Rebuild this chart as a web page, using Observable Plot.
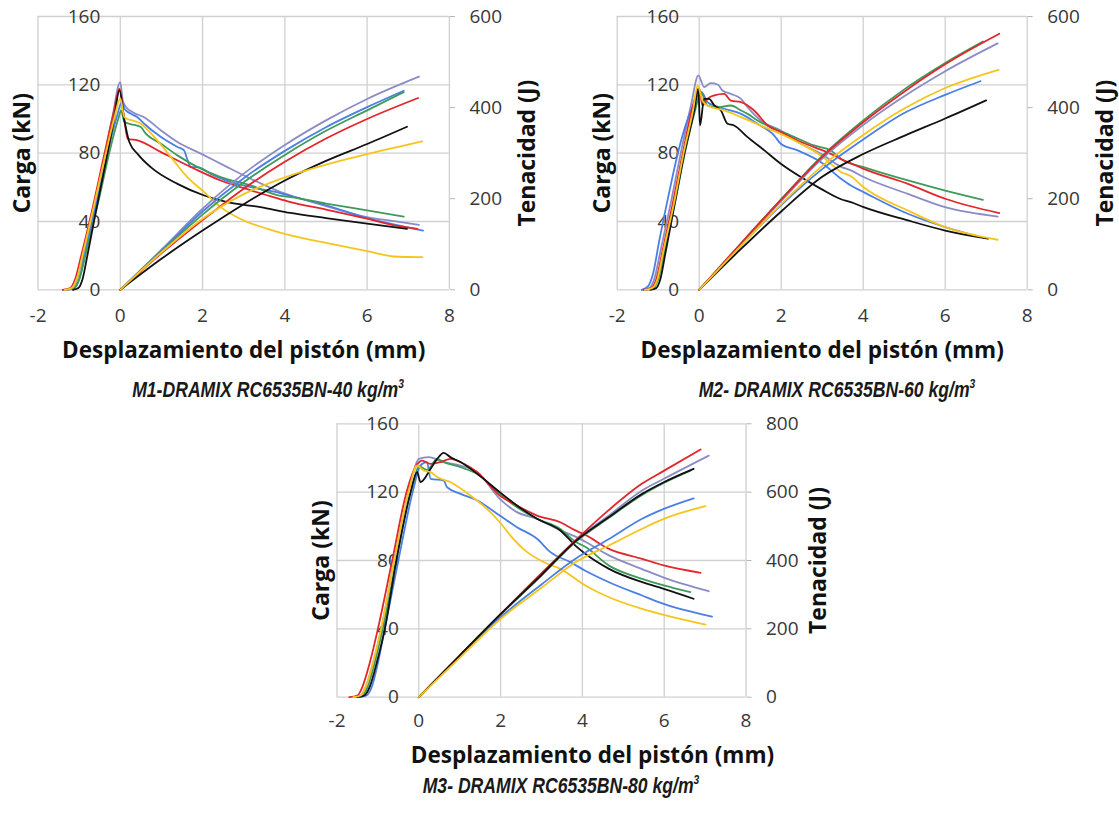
<!DOCTYPE html>
<html><head><meta charset="utf-8">
<script src="https://cdn.jsdelivr.net/npm/d3@7"></script>
<script src="https://cdn.jsdelivr.net/npm/@observablehq/plot@0.6"></script>
<style>
html,body{margin:0;padding:0;background:#fff;}
body{width:1119px;height:813px;position:relative;overflow:hidden;}
.panel{position:absolute;}
.cap{position:absolute;font-family:"Liberation Sans",Arial,sans-serif;font-style:italic;font-weight:bold;font-size:22px;color:#1a1a1a;white-space:nowrap;transform:translate(-50%,-50%) scaleX(0.8);transform-origin:50% 50%;}
.cap sup{font-size:58%;vertical-align:top;position:relative;top:-1px;}
</style></head><body>
<div id="p1" class="panel"></div>
<div id="p2" class="panel"></div>
<div id="p3" class="panel"></div>
<div class="cap" style="left:268px;top:390px">M1-DRAMIX RC6535BN-40 kg/m<sup>3</sup></div>
<div class="cap" style="left:837px;top:390px">M2- DRAMIX RC6535BN-60 kg/m<sup>3</sup></div>
<div class="cap" style="left:561px;top:786px">M3- DRAMIX RC6535BN-80 kg/m<sup>3</sup></div>
<script>
// ---------- ticks & labels ----------
const X_TICKS = [-2, 0, 2, 4, 6, 8];
const CARGA_TICKS = [0, 40, 80, 120, 160];
const TEN_TICKS_M1 = [0, 200, 400, 600];
const TEN_TICKS_M2 = [0, 200, 400, 600];
const TEN_TICKS_M3 = [0, 200, 400, 600, 800];
const X_TITLE = "Desplazamiento del pistón (mm)";
const Y_TITLE = "Carga (kN)";
const Y2_TITLE = "Tenacidad (J)";
const SERIES = ["morado", "azul", "verde", "rojo", "negro", "amarillo"];

// ---------- M1: carga (kN) vs desplazamiento (mm) ----------
const M1_CARGA_MORADO = [[-1.38,0],[-1.2,0.5],[-1.08,4],[-0.95,15],[-0.75,35],[-0.45,70],[-0.2,100],[0,121.6],[0.06,110.9],[0.14,107],[0.3,104],[0.58,101],[0.99,93.3],[1.39,86.5],[1.97,79.6],[2.6,71.8],[3.17,65],[3.9,57.2],[4.14,55.2],[5,49],[6,42.6],[6.7,40],[7.26,38]];
const M1_CARGA_AZUL = [[-1.3,0],[-1.12,1],[-1.0,6],[-0.85,22],[-0.6,48],[-0.35,76],[-0.1,100],[0.05,110.5],[0.1,106],[0.26,103],[0.42,101],[0.58,97.2],[0.99,89.4],[1.39,83.6],[1.55,81.6],[1.62,77],[1.72,71.8],[1.88,71.8],[2.2,67.9],[2.69,63],[3.17,60.1],[3.9,56.5],[4.14,55],[5,49.5],[6,42],[6.7,38],[7.36,34.7]];
const M1_CARGA_VERDE = [[-1.3,0],[-1.12,1],[-1.0,6],[-0.8,25],[-0.5,55],[-0.25,82],[-0.05,100],[0.02,105],[0.1,98.2],[0.25,97],[0.5,95.3],[0.6,92],[0.99,85.5],[1.39,78.7],[1.88,71.8],[2.44,66],[3.17,61.1],[3.9,55],[4.14,54.3],[5,50.5],[6,46.5],[6.89,42.9]];
const M1_CARGA_ROJO = [[-1.4,0],[-1.22,1],[-1.1,6],[-0.95,20],[-0.7,45],[-0.4,78],[-0.15,105],[-0.02,117.7],[0.1,99.2],[0.18,88.4],[0.42,87.5],[0.99,80.6],[1.8,70.9],[2.44,64],[3.17,58.2],[3.9,53],[4.14,51.3],[5,47],[6,41.6],[6.6,38],[7.22,35.7]];
const M1_CARGA_NEGRO = [[-1.15,0],[-1.02,1],[-0.92,6],[-0.8,20],[-0.6,45],[-0.35,75],[-0.15,100],[-0.02,116.7],[0.1,99.2],[0.22,86.5],[0.42,79.6],[0.74,71.8],[1.39,62],[2.04,55.2],[2.6,51.3],[3.41,48.4],[4.14,45],[5,42],[6,38.7],[6.97,35.7]];
const M1_CARGA_AMARILLO = [[-1.35,0],[-1.18,1],[-1.05,7],[-0.9,22],[-0.65,48],[-0.4,75],[-0.15,100],[0,112],[0.1,101],[0.5,97.2],[0.83,89.4],[1.23,77.7],[1.63,66],[2.04,57.2],[2.44,48.4],[3.0,40.6],[3.58,35.7],[4.14,31.8],[5,27.5],[6,22.6],[6.65,19.5],[7.34,19.1]];
// ---------- M1: tenacidad (J) ----------
const M1_TEN_MORADO = [[0,0],[1,88],[2,178],[3,255],[4,318],[5,372],[6,419],[7.26,468]];
const M1_TEN_AZUL = [[0,0],[1,86],[2,172],[3,245],[4,305],[5,357],[6,401],[6.89,437]];
const M1_TEN_VERDE = [[0,0],[1,84],[2,165],[3,236],[4,296],[5,349],[6,394],[6.89,434]];
const M1_TEN_ROJO = [[0,0],[1,80],[2,153],[3,222],[4,281],[5,332],[6,375],[7.24,421]];
const M1_TEN_NEGRO = [[0,0],[1,68],[2,130],[3,188],[4,240],[5,283],[6,320],[6.97,358]];
const M1_TEN_AMARILLO = [[0,0],[1,82],[2,156],[3,210],[4,247],[5,275],[6,298],[7.34,326]];

// ---------- M2: carga ----------
const M2_CARGA_MORADO = [[-1.4,0],[-1.22,1],[-1.1,6],[-0.95,22],[-0.7,50],[-0.45,80],[-0.2,108],[-0.02,125.5],[0.12,118.6],[0.28,121],[0.45,120.2],[0.57,116.7],[0.77,114.7],[1.02,111.8],[1.18,106.9],[1.5,99.1],[1.99,93.3],[2.48,85.5],[2.97,79.6],[3.46,72],[3.7,69.9],[4.01,66],[5.09,56.2],[6.0,48.4],[7.28,42.9]];
const M2_CARGA_ROJO = [[-1.35,0],[-1.18,1],[-1.05,6],[-0.9,22],[-0.65,50],[-0.4,80],[-0.15,108],[0,118],[0.08,107.9],[0.2,111.8],[0.37,113.8],[0.61,114.7],[0.77,110.8],[1.02,109.9],[1.34,105],[1.67,96.2],[1.99,92.3],[2.4,87.4],[2.8,83.5],[3.21,79.6],[3.46,76.5],[3.7,74],[4.01,70.8],[5.09,62],[6.0,53.3],[7.32,44.9]];
const M2_CARGA_VERDE = [[-1.3,0],[-1.12,1],[-1.0,6],[-0.85,22],[-0.6,50],[-0.35,80],[-0.1,105],[0.04,115.7],[0.2,107.9],[0.45,106.9],[0.77,107.9],[1.02,105],[1.18,103],[1.42,99.1],[1.75,95.2],[2.24,90.3],[2.8,84.5],[3.21,81.6],[3.5,76],[4.01,71.8],[5.09,64],[6.0,58.1],[6.92,52.7]];
const M2_CARGA_AZUL = [[-1.4,0],[-1.25,2],[-1.12,10],[-0.98,28],[-0.75,55],[-0.5,82],[-0.2,105],[0.06,115.7],[0.2,109.9],[0.37,107.9],[0.61,106],[1.02,103],[1.42,97.2],[1.83,90.3],[1.99,85.5],[2.4,81.6],[2.97,74.7],[3.46,65],[3.7,61],[4.01,57.2],[5.09,44.5],[6.0,36.7],[6.87,30.8]];
const M2_CARGA_AMARILLO = [[-1.32,0],[-1.15,1],[-1.02,6],[-0.88,22],[-0.62,50],[-0.38,80],[-0.15,105],[-0.04,119.6],[0.08,110.8],[0.2,107.9],[0.61,105],[1.02,101.1],[1.59,95.2],[1.99,91.3],[2.48,85.5],[2.97,78.6],[3.46,69],[3.7,66.5],[4.01,60],[5.09,46.4],[6.0,36.7],[7.28,29.3]];
const M2_CARGA_NEGRO = [[-1.2,0],[-1.05,1],[-0.95,6],[-0.82,22],[-0.6,50],[-0.36,80],[-0.12,105],[-0.02,117.7],[0.02,96.2],[0.12,111.8],[0.24,111.8],[0.37,107.9],[0.53,105],[0.69,97.2],[0.85,96.2],[1.18,89.4],[1.59,81.6],[1.99,73.8],[2.48,66],[2.97,59.1],[3.46,53],[3.7,51.3],[4.01,48.4],[5.09,40.6],[6.0,34.7],[7.04,29.9]];
// ---------- M2: tenacidad ----------
const M2_TEN_ROJO = [[0,0],[1,100],[2,198],[3,292],[4,368],[5,435],[6,495],[7.32,562]];
const M2_TEN_VERDE = [[0,0],[1,100],[2,199],[3,294],[4,372],[5,440],[6,498],[6.92,545]];
const M2_TEN_MORADO = [[0,0],[1,98],[2,195],[3,288],[4,362],[5,425],[6,480],[7.28,541]];
const M2_TEN_AMARILLO = [[0,0],[1,95],[2,188],[3,272],[4,340],[5,398],[6,443],[7.3,483]];
const M2_TEN_AZUL = [[0,0],[1,95],[2,186],[3,265],[4,330],[5,388],[6,428],[6.86,458]];
const M2_TEN_NEGRO = [[0,0],[1,88],[2,172],[3,248],[4,298],[5,338],[6,376],[7.0,416]];

// ---------- M3: carga ----------
const M3_CARGA_ROJO = [[-1.7,0],[-1.5,1],[-1.38,6],[-1.2,20],[-1.0,40],[-0.65,80],[-0.3,120],[-0.05,136],[0.08,138.5],[0.29,136.6],[0.53,137.6],[0.77,139.5],[1.1,136.6],[1.43,131.7],[1.98,118],[2.4,112.2],[2.89,106.3],[3.46,102.4],[3.83,97.6],[4.07,95],[4.65,86.8],[5.46,81],[5.99,77.1],[6.89,72.8]];
const M3_CARGA_MORADO = [[-1.6,0],[-1.42,1],[-1.3,6],[-1.12,20],[-0.92,40],[-0.6,80],[-0.25,120],[0,139.5],[0.24,140.5],[0.61,137.6],[1.02,135.6],[1.43,131.7],[1.98,116.1],[2.4,108.3],[2.89,104.4],[3.46,97.6],[3.83,94],[4.07,91],[4.65,83],[5.46,75],[5.99,70],[6.5,66],[7.09,62]];
const M3_CARGA_VERDE = [[-1.55,0],[-1.38,1],[-1.25,6],[-1.08,20],[-0.88,40],[-0.55,80],[-0.2,120],[0.02,135],[0.2,133],[0.45,139.5],[0.61,137.6],[1.02,134.6],[1.43,130.7],[1.98,119],[2.4,111.2],[2.89,104.4],[3.46,98.5],[3.83,91],[4.07,88],[4.65,77],[5.46,69.3],[5.99,65.4],[6.64,61.5]];
const M3_CARGA_NEGRO = [[-1.5,0],[-1.33,1],[-1.2,6],[-1.03,20],[-0.83,40],[-0.55,80],[-0.2,120],[-0.04,131.7],[0.04,125.9],[0.29,133.7],[0.45,139.5],[0.61,143],[0.77,140.5],[1.02,137.6],[1.43,130.7],[1.98,120],[2.4,112.2],[2.89,104.4],[3.46,97.6],[3.87,87.8],[4.07,83.9],[4.65,75.1],[5.46,67.3],[5.99,63.4],[6.72,57.6]];
const M3_CARGA_AZUL = [[-1.45,0],[-1.28,1],[-1.15,6],[-1.0,20],[-0.85,38],[-0.5,80],[-0.15,120],[0.04,135.6],[0.2,137.6],[0.29,127.8],[0.61,126.8],[0.69,122.9],[1.02,119],[1.43,115.1],[1.98,106.3],[2.4,99.5],[2.89,92.7],[3.22,84.9],[3.71,79],[4.07,74],[4.65,67.3],[5.46,59.5],[5.99,54.6],[7.17,47.2]];
const M3_CARGA_AMARILLO = [[-1.6,0],[-1.42,1],[-1.3,6],[-1.12,20],[-0.92,40],[-0.6,80],[-0.25,120],[-0.04,135.6],[0.12,132.7],[0.29,131.7],[0.45,128.8],[0.77,125.9],[1.26,118],[1.75,108.3],[1.98,102.4],[2.24,94.6],[2.65,84.9],[3.06,79],[3.46,75.1],[4.07,65.4],[4.65,58.5],[5.46,51.7],[5.99,48.2],[7.01,42.5]];
// ---------- M3: tenacidad ----------
const M3_TEN_ROJO = [[0,0],[1,122],[2,243],[3,363],[4,478],[4.65,548],[5.46,625],[6,663],[6.89,725]];
const M3_TEN_NEGRO = [[0,0],[1,122],[2,243],[3,358],[3.83,456],[4.65,527],[5.46,595],[5.99,629],[6.72,668]];
const M3_TEN_VERDE = [[0,0],[1,122],[2,242],[3,356],[3.83,454],[4.65,525],[5.46,592],[5.99,627],[6.64,663]];
const M3_TEN_MORADO = [[0,0],[1,122],[2,243],[3,357],[3.83,459],[4.65,532],[5.46,605],[5.99,639],[7.09,707]];
const M3_TEN_AZUL = [[0,0],[1,118],[2,234],[3,330],[3.83,405],[4.65,463],[5.46,522],[5.99,551],[6.72,582]];
const M3_TEN_AMARILLO = [[0,0],[1,115],[2,229],[3,320],[3.83,395],[4.65,444],[5.46,493],[5.99,522],[7.01,559]];

// ---------- styles ----------
const COLOR = {morado:"#8b8cc6", azul:"#4a7fe6", verde:"#3f9a5c", rojo:"#e3262b", negro:"#111111", amarillo:"#f6c51b"};
const FONT = "'Open Sans', 'Noto Sans', sans-serif";
const GRID = "#d0d0d0";
const TXT = "#383838";

const panels = [
  {id:"p1", left:0, top:0, width:560, height:372, mL:37.5, mR:111.1, mT:16, mB:82.7, tMax:600, tTicks:TEN_TICKS_M1,
   xPad:19, xTitleDx:0, xTitleDy:68, rightDx:78,
   carga:{morado:M1_CARGA_MORADO, azul:M1_CARGA_AZUL, verde:M1_CARGA_VERDE, rojo:M1_CARGA_ROJO, negro:M1_CARGA_NEGRO, amarillo:M1_CARGA_AMARILLO},
   ten:{morado:M1_TEN_MORADO, azul:M1_TEN_AZUL, verde:M1_TEN_VERDE, rojo:M1_TEN_ROJO, negro:M1_TEN_NEGRO, amarillo:M1_TEN_AMARILLO}},
  {id:"p2", left:560, top:0, width:559, height:372, mL:56.7, mR:92.3, mT:16, mB:82.7, tMax:600, tTicks:TEN_TICKS_M2,
   xPad:19, xTitleDx:0, xTitleDy:68, rightDx:78,
   carga:{morado:M2_CARGA_MORADO, azul:M2_CARGA_AZUL, verde:M2_CARGA_VERDE, rojo:M2_CARGA_ROJO, negro:M2_CARGA_NEGRO, amarillo:M2_CARGA_AMARILLO},
   ten:{morado:M2_TEN_MORADO, azul:M2_TEN_AZUL, verde:M2_TEN_VERDE, rojo:M2_TEN_ROJO, negro:M2_TEN_NEGRO, amarillo:M2_TEN_AMARILLO}},
  {id:"p3", left:290, top:400, width:560, height:375, mL:46.5, mR:104.5, mT:23.3, mB:78.3, tMax:800, tTicks:TEN_TICKS_M3,
   xPad:16, xTitleDx:51, xTitleDy:66, rightDx:73,
   carga:{morado:M3_CARGA_MORADO, azul:M3_CARGA_AZUL, verde:M3_CARGA_VERDE, rojo:M3_CARGA_ROJO, negro:M3_CARGA_NEGRO, amarillo:M3_CARGA_AMARILLO},
   ten:{morado:M3_TEN_MORADO, azul:M3_TEN_AZUL, verde:M3_TEN_VERDE, rojo:M3_TEN_ROJO, negro:M3_TEN_NEGRO, amarillo:M3_TEN_AMARILLO}}
];

for (const p of panels) {
  const k = 160 / p.tMax; // toughness -> load axis
  const marks = [
    Plot.ruleX(X_TICKS, {stroke: GRID, strokeWidth: 1.3}),
    Plot.ruleY(CARGA_TICKS, {stroke: GRID, strokeWidth: 1.3}),
    Plot.axisX(X_TICKS, {anchor: "bottom", tickSize: 0, tickPadding: p.xPad, tickFormat: d => String(d), fill: TXT, fontSize: 19, label: null}),
    Plot.axisY(CARGA_TICKS, {anchor: "left", x: 0, tickSize: 0, tickPadding: 20, tickFormat: d => String(d), fill: TXT, fontSize: 19, label: null}),
    Plot.axisY(p.tTicks.map(t => t * k), {anchor: "right", tickSize: 5, tickPadding: 15, stroke: "#b5b5b5", tickFormat: v => String(Math.round(v / k)), fill: TXT, fontSize: 19, label: null}),
  ];
  for (const s of SERIES) {
    marks.push(Plot.line(p.carga[s], {x: d => d[0], y: d => d[1], stroke: COLOR[s], strokeWidth: 1.8, strokeLinejoin: "round", curve: "monotone-x"}));
  }
  for (const s of SERIES) {
    marks.push(Plot.line(p.ten[s], {x: d => d[0], y: d => d[1] * k, stroke: COLOR[s], strokeWidth: 1.8, strokeLinejoin: "round", curve: "monotone-x"}));
  }
  marks.push(
    Plot.text([Y_TITLE], {frameAnchor: "left", textAnchor: "middle", dx: -15, rotate: -90, fontSize: 23, fontWeight: "bold", fill: "#111"}),
    Plot.text([Y2_TITLE], {frameAnchor: "right", textAnchor: "middle", dx: p.rightDx, rotate: -90, fontSize: 23, fontWeight: "bold", fill: "#111"}),
    Plot.text([X_TITLE], {frameAnchor: "bottom", textAnchor: "middle", dx: p.xTitleDx, dy: p.xTitleDy, fontSize: 22.5, fontWeight: "bold", fill: "#111"})
  );
  const chart = Plot.plot({
    width: p.width, height: p.height,
    marginLeft: p.mL, marginRight: p.mR, marginTop: p.mT, marginBottom: p.mB,
    x: {domain: [-2, 8]},
    y: {domain: [0, 160]},
    style: {fontFamily: FONT, fontSize: "19px", background: "transparent", overflow: "visible", color: TXT},
    marks
  });
  const el = document.getElementById(p.id);
  el.style.left = p.left + "px";
  el.style.top = p.top + "px";
  el.appendChild(chart);
}
</script>
</body></html>
